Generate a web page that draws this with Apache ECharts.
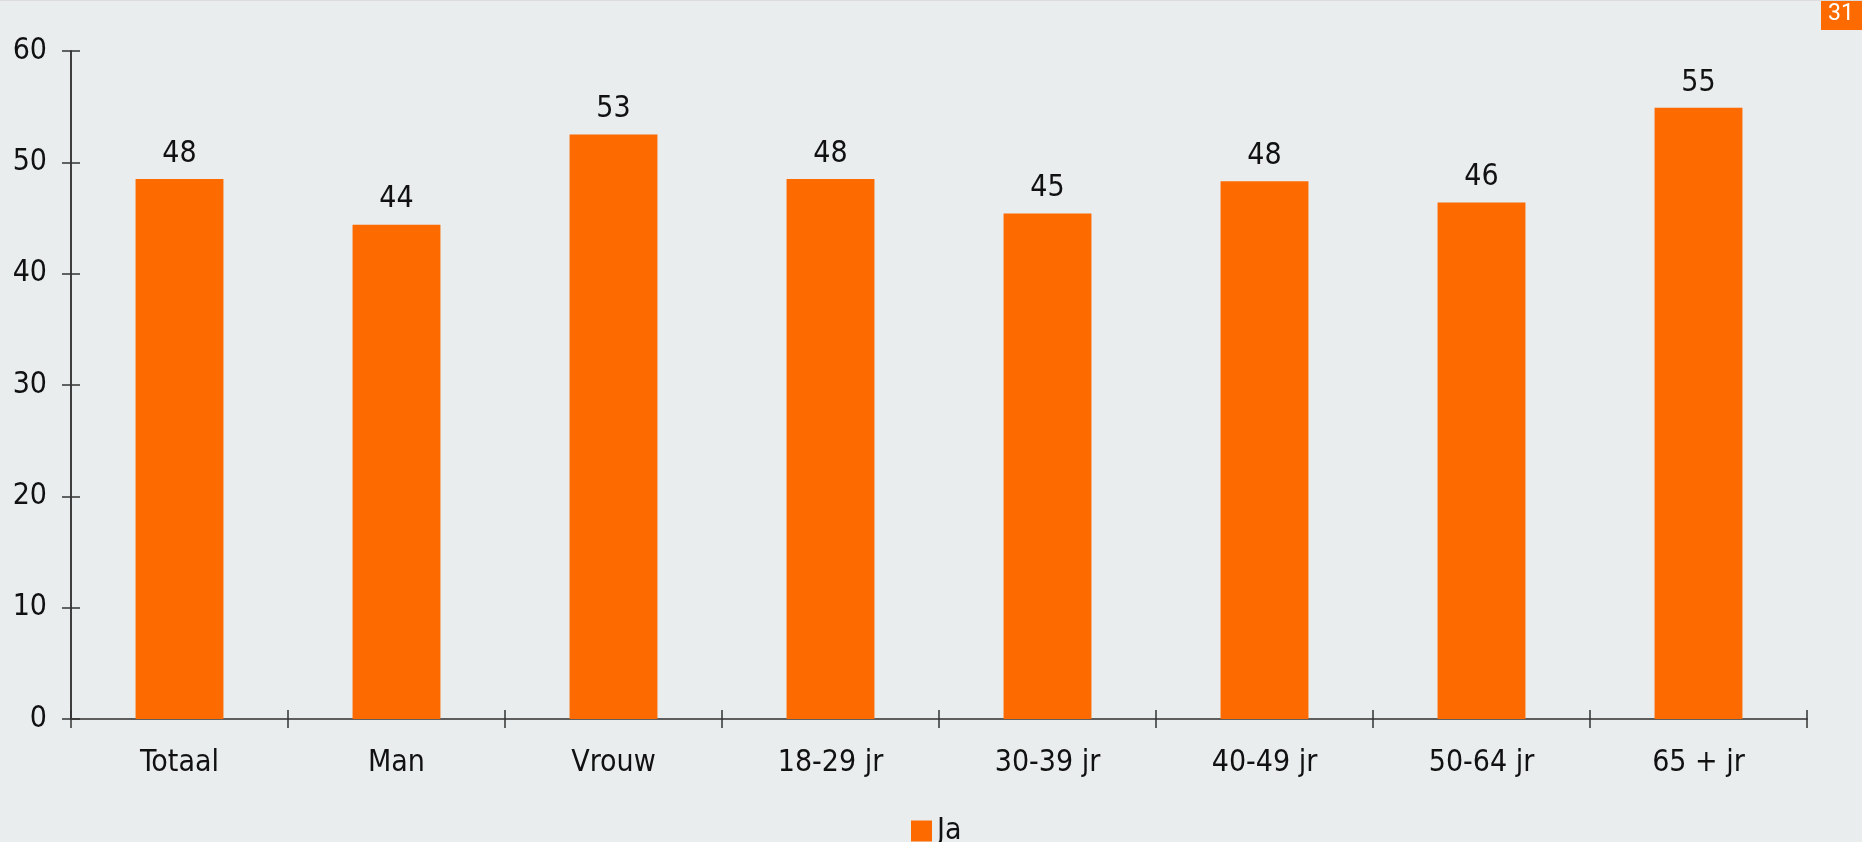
<!DOCTYPE html>
<html>
<head>
<meta charset="utf-8">
<script src="https://cdn.jsdelivr.net/npm/echarts@6/dist/echarts.min.js"></script>
<style>
html,body{margin:0;padding:0;background:#e9edee;}
#c{width:1862px;height:842px;}
</style>
</head>
<body>
<div id="c"></div>
<script>
const categories = ['Totaal','Man','Vrouw','18-29 jr','30-39 jr','40-49 jr','50-64 jr','65 + jr'];
const values = [48.5, 44.4, 52.5, 48.5, 45.4, 48.3, 46.4, 54.9];
const valueLabels = ['48','44','53','48','45','48','46','55'];
const yTicks = [0, 10, 20, 30, 40, 50, 60];
const seriesName = 'Ja';
const pageNumber = '31';

const FONT = "'DejaVu Sans Condensed','DejaVu Sans',sans-serif";
const FS = 30;
const chart = echarts.init(document.getElementById('c'), null, {renderer:'canvas'});
const axisCol = '#333';
chart.setOption({
  backgroundColor: '#e9edee',
  animation: false,
  grid: {left: 71, right: 55, top: 51, bottom: 123, containLabel: false},
  legend: {
    data: [seriesName], bottom: -4, left: 911, padding: 0,
    icon: 'rect', itemWidth: 21, itemHeight: 21, itemGap: 10,
    textStyle: {fontFamily: FONT, fontSize: FS, color: '#111'}
  },
  xAxis: [{
    type: 'category', data: categories, position: 'bottom',
    axisLine: {show: true, lineStyle: {color: '#555', width: 1.5}},
    axisTick: {show: true, length: 9, lineStyle: {color: axisCol, width: 1.5}},
    axisLabel: {fontFamily: FONT, fontSize: FS, color: '#111', margin: 29, interval: 0}
  },{
    type: 'category', data: categories, position: 'bottom', offset: 0,
    axisLine: {show: true, lineStyle: {color: '#555', width: 1.5}},
    axisTick: {show: true, inside: true, length: 9, lineStyle: {color: axisCol, width: 1.5}},
    axisLabel: {show: false}
  }],
  yAxis: [{
    type: 'value', min: 0, max: 60, interval: 10, position: 'left',
    axisLine: {show: true, lineStyle: {color: axisCol, width: 1.5}},
    axisTick: {show: true, length: 9, lineStyle: {color: axisCol, width: 1.5}},
    splitLine: {show: false},
    axisLabel: {fontFamily: FONT, fontSize: FS, color: '#111', margin: 24, padding: [4,0,0,0],
      formatter: v => yTicks.includes(v) ? String(v) : ''}
  },{
    type: 'value', min: 0, max: 60, interval: 10, position: 'left', offset: 0,
    axisLine: {show: true, lineStyle: {color: axisCol, width: 1.5}},
    axisTick: {show: true, inside: true, length: 9, lineStyle: {color: axisCol, width: 1.5}},
    splitLine: {show: false},
    axisLabel: {show: false}
  }],
  series: [{
    name: seriesName, type: 'bar', data: values, barWidth: '40.5%',
    itemStyle: {color: '#fc6a00'},
    label: {show: true, position: 'top', distance: 10, fontFamily: FONT, fontSize: FS, color: '#111',
      formatter: p => valueLabels[p.dataIndex]}
  }],
  graphic: [
    {type: 'rect', left: 1821, top: 0, shape: {width: 41, height: 30}, style: {fill: '#fc6a00'}},
    {type: 'text', left: 1828, top: 3, style: {text: pageNumber, fill: '#fff', fontSize: 23, fontFamily: 'Roboto'}},
    {type: 'rect', left: 0, top: 0, shape: {width: 1862, height: 1}, style: {fill: '#dcdcdc'}}
  ]
});
</script>
</body>
</html>
